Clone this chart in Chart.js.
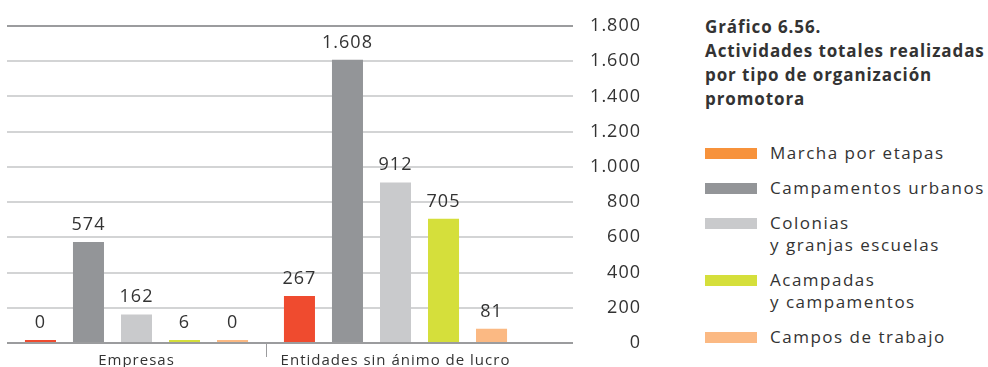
<!DOCTYPE html>
<html lang="es">
<head>
  <meta charset="UTF-8" />
  <title>Gráfico 6.56. Actividades totales realizadas por tipo de organización promotora</title>
  <script src="https://cdn.jsdelivr.net/npm/chart.js"></script>
  <style>
    body {
      margin: 0;
      background: #ffffff;
      font-family: 'Open Sans', sans-serif;
      color: #333333;
    }

    .wrap {
      position: relative;
      width: 988px;
      height: 367px;
      overflow: hidden;
    }

    .chart-box {
      position: absolute;
      left: 0;
      top: 0;
      width: 660px;
      height: 367px;
    }

    h1 {
      position: absolute;
      left: 705px;
      top: 15px;
      margin: 0;
      font-size: 17px;
      font-weight: 700;
      line-height: 24px;
      letter-spacing: 0.9px;
      color: #333333;
    }

    .legend {
      position: absolute;
      left: 705px;
      top: 142px;
      list-style: none;
      margin: 0;
      padding: 0;
    }

    .legend li {
      position: relative;
      padding-left: 65px;
      font-size: 17px;
      line-height: 22px;
      letter-spacing: 1.5px;
      margin-bottom: 13px;
      white-space: pre;
    }

    .legend .swatch {
      position: absolute;
      left: 0;
      top: 6px;
      width: 52px;
      height: 11px;
    }
  </style>
</head>
<body>
  <div class="wrap">
    <div class="chart-box"><canvas id="orgChart"></canvas></div>
    <h1>Gráfico 6.56.<br>Actividades totales realizadas<br>por tipo de organización<br>promotora</h1>
    <ul class="legend" id="legend"></ul>
  </div>

  <script>
    // Data
    const categories = ['Empresas', 'Entidades sin ánimo de lucro'];
    const seriesNames = [
      'Marcha por etapas',
      'Campamentos urbanos',
      'Colonias\ny granjas escuelas',
      'Acampadas\ny campamentos',
      'Campos de trabajo'
    ];
    const marchaEtapas = [0, 267];
    const campamentosUrbanos = [574, 1608];
    const coloniasGranjas = [162, 912];
    const acampadas = [6, 705];
    const camposTrabajo = [0, 81];
    const yMax = 1800;
    const yStep = 200;

    const barColors = ['#ef4b2f', '#939598', '#c9cacc', '#d5df3b', '#fbb983'];
    const legendColors = ['#f7923b', '#939598', '#c9cacc', '#d5df3b', '#fbb983'];
    const seriesValues = [marchaEtapas, campamentosUrbanos, coloniasGranjas, acampadas, camposTrabajo];

    // Spanish thousands separator: 1608 -> 1.608
    function fmt(n) {
      return String(n).replace(/\B(?=(\d{3})+(?!\d))/g, '.');
    }

    // HTML legend
    const legendEl = document.getElementById('legend');
    seriesNames.forEach((name, i) => {
      const li = document.createElement('li');
      const sw = document.createElement('span');
      sw.className = 'swatch';
      sw.style.background = legendColors[i];
      li.appendChild(sw);
      li.appendChild(document.createTextNode(name));
      legendEl.appendChild(li);
    });

    // wider lettering, closer to the original typeface
    const letterSpacing = {
      id: 'letterSpacing',
      beforeDraw(chart) {
        chart.ctx.letterSpacing = '1px';
      }
    };

    // value labels above the bars
    const barValueLabels = {
      id: 'barValueLabels',
      afterDatasetsDraw(chart) {
        const ctx = chart.ctx;
        ctx.save();
        ctx.font = '18px "Open Sans"';
        ctx.letterSpacing = '1px';
        ctx.fillStyle = '#333333';
        ctx.textAlign = 'center';
        ctx.textBaseline = 'alphabetic';
        chart.data.datasets.forEach((ds, i) => {
          chart.getDatasetMeta(i).data.forEach((bar, j) => {
            ctx.fillText(fmt(ds.data[j]), bar.x, bar.y - 12);
          });
        });
        ctx.restore();
      }
    };

    Chart.defaults.font.family = "'Open Sans', sans-serif";
    Chart.defaults.color = '#333333';

    new Chart(document.getElementById('orgChart'), {
      type: 'bar',
      data: {
        labels: categories,
        datasets: seriesNames.map((name, i) => ({
          label: name.replace('\n', ' '),
          data: seriesValues[i],
          backgroundColor: barColors[i],
          borderWidth: 0,
          minBarLength: 3,
          categoryPercentage: 0.927,
          barPercentage: 0.646
        }))
      },
      options: {
        responsive: true,
        maintainAspectRatio: false,
        animation: false,
        layout: {
          padding: { top: 26, left: 7, right: 19, bottom: 0 }
        },
        plugins: {
          legend: { display: false },
          tooltip: { enabled: false }
        },
        scales: {
          x: {
            border: { display: false },
            grid: {
              offset: true,
              drawOnChartArea: false,
              tickLength: 14,
              lineWidth: 1,
              color: ctx => (ctx.index === 1 ? '#9b9c9e' : 'rgba(0,0,0,0)')
            },
            ticks: {
              font: { size: 15 },
              color: '#333333',
              padding: -5
            },
            afterFit: s => { s.height = 24; }
          },
          y: {
            position: 'right',
            min: 0,
            max: yMax,
            border: { display: false },
            grid: {
              lineWidth: 2,
              tickLength: 48,
              color: ctx => (ctx.tick && (ctx.tick.value === 0 || ctx.tick.value === yMax) ? '#9b9c9e' : '#d3d4d5')
            },
            ticks: {
              stepSize: yStep,
              crossAlign: 'far',
              padding: 20,
              font: { size: 18 },
              color: '#333333',
              callback: v => fmt(v)
            },
            afterFit: s => {
              s.width = 116;
              s.paddingTop = 0;
              s.paddingBottom = 0;
            }
          }
        }
      },
      plugins: [letterSpacing, barValueLabels]
    });
  </script>
</body>
</html>
